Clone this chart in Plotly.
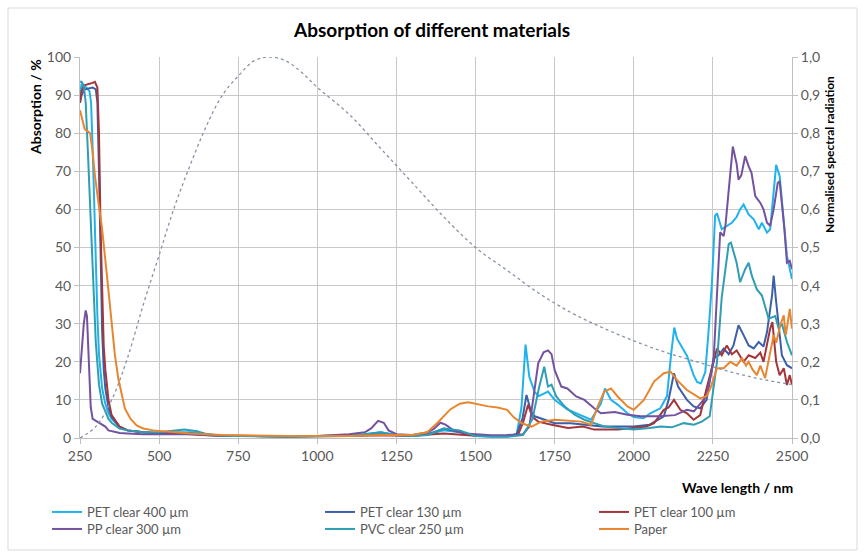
import plotly.graph_objects as go

# ---------------- data ----------------
pet400_x = [250,255,260,270,280,285,290,295,300,305,310,320,330,340,350,375,400,450,500,550,600,650,700,800,900,1000,1100,1150,1200,1250,1300,1350,1400,1450,1500,1550,1600,1630,1645,1658,1670,1687,1700,1729,1750,1790,1834,1865,1896,1909,1928,1950,1980,2000,2031,2052,2084,2105,2118,2128,2137,2150,2168,2189,2200,2212,2226,2236,2247,2257,2263,2278,2294,2310,2325,2336,2347,2363,2379,2395,2405,2421,2431,2442,2450,2461,2474,2484,2500]
pet400_y = [90,93,92.5,92,91,88,76,60,45,32,22,13,9,6.5,5,3,2,1.5,1.2,1.5,1.5,1,0.6,0.5,0.4,0.5,0.6,1,1.5,0.8,0.6,1,2,1.5,0.6,0.4,0.4,1,8,24.5,16,12,11,12.2,10,7.5,6,4.8,9,13,10,8.7,6.5,5.5,5.2,6.5,7.8,11,22,29,26,24,21.6,16.5,14.7,14.3,17.3,27.7,40.7,58.3,59,54.8,55.7,56.5,58,60,61.3,58.7,57.4,54.8,56.5,53.9,54.8,63.5,71.7,68.7,58,47.8,41.7]

pet130_x = [250,255,265,290,300,305,310,315,320,325,330,340,350,375,400,450,500,550,600,650,700,800,900,1000,1100,1150,1200,1250,1300,1350,1400,1450,1500,1550,1600,1630,1648,1661,1675,1687,1719,1750,1800,1855,1900,2000,2050,2095,2110,2127,2140,2168,2189,2210,2230,2252,2268,2284,2300,2315,2331,2347,2363,2379,2395,2410,2421,2437,2442,2450,2468,2484,2500]
pet130_y = [88,90,91.5,92,91.5,88,70,45,28,18,13,8,5.5,3,2,1.5,1.2,1.2,1.2,0.8,0.5,0.5,0.4,0.5,0.6,0.8,1,0.7,0.6,1,2.5,1.5,0.6,0.5,0.5,1,5,11.3,7,5.7,4.8,3.9,3.9,3.5,3,3,3.5,5.7,10,17,13.5,10,8.3,7.8,10,20.9,21.7,23.5,22,24.3,29.6,27,24.3,23.5,25.2,24,27.8,37.4,42.6,35.7,21.7,19.1,18.3]

pet100_x = [250,255,262,270,280,290,297,305,310,315,320,325,330,340,350,375,400,450,500,550,600,650,700,800,900,1000,1100,1200,1300,1400,1500,1600,1635,1650,1666,1680,1698,1740,1792,1840,1875,1950,2000,2040,2064,2095,2110,2127,2147,2168,2189,2210,2230,2252,2263,2278,2294,2310,2325,2347,2363,2384,2400,2410,2431,2438,2450,2461,2474,2484,2493,2500]
pet100_y = [88,91,92.5,92.8,93,93.2,93.5,92,80,55,35,24,18,10,6,3,2,1.5,1.2,1.2,1,0.8,0.6,0.5,0.4,0.5,0.5,0.7,0.6,1.2,0.6,0.5,1,4,8.7,5.5,4.3,3.5,2.6,3,2.2,2.2,2.6,3,3.9,7.4,8,10,7.4,6.5,4.8,6,13,20,23.5,21.7,24.3,22,23,20,21.7,21,22.4,20,28.7,30.4,20,16.5,18.3,13.9,16.5,13.9]

pp300_x = [250,255,262,268,272,278,284,290,300,310,320,330,340,350,376,400,450,500,550,600,650,700,800,900,1000,1100,1150,1170,1192,1210,1225,1250,1300,1350,1370,1389,1405,1430,1470,1500,1550,1600,1650,1670,1685,1698,1715,1729,1740,1750,1771,1790,1818,1844,1875,1896,1940,1980,2022,2080,2130,2168,2190,2210,2230,2252,2263,2273,2284,2290,2300,2313,2325,2331,2340,2352,2363,2372,2384,2400,2410,2421,2431,2442,2455,2461,2476,2484,2493,2500]
pp300_y = [17,22,30,33.5,32,20,8,5,4.5,4,3.5,3,2,1.8,1.3,1.2,1,1,1,1,0.7,0.6,0.5,0.5,0.5,1,1.5,2.5,4.5,4,2,1,0.8,1.5,2.5,4,3.5,2,1.2,1,0.7,0.8,1,3,12,19.6,22.5,23,22,17.8,13.5,13,10.9,10,7.8,6.5,6.8,6.1,5.7,5.7,6,7.4,7,9,11,20,37,54,53,56,65,76.5,72,67.8,69,74,71.3,69.6,63.5,61.7,60,56.5,55.7,60,67,67.4,54.8,46,46.5,44.3]

pvc250_x = [250,255,262,268,275,285,295,300,310,320,330,340,350,375,400,450,500,550,580,620,650,700,800,900,1000,1100,1150,1200,1250,1300,1350,1400,1450,1500,1550,1600,1650,1680,1700,1717,1729,1740,1755,1781,1813,1844,1875,1907,1950,2000,2050,2085,2120,2158,2190,2215,2240,2263,2278,2300,2307,2315,2325,2336,2352,2363,2373,2389,2405,2426,2447,2458,2468,2484,2500]
pvc250_y = [93.5,93.5,92.5,88,75,55,35,25,14,9,7,5,4,2.5,2,1.5,1.5,2,2.2,1.8,1,0.6,0.4,0.3,0.4,0.5,1,1.5,0.7,0.5,0.8,2.5,2,0.5,0.3,0.3,0.8,5,13,18.7,13.5,14,10.9,8.3,6.1,4.8,3.9,3,2.6,2.2,2.6,3,2.8,3.9,3.5,4.3,5.7,20,37,50.9,51.3,48.7,46,40.9,44.3,46,42.6,39,37.4,31.3,32,28.7,30,25.2,21.7]

paper_x = [250,258,265,275,282,290,297,308,319,334,350,360,371,392,410,429,450,482,550,600,700,800,900,1000,1100,1200,1300,1347,1380,1420,1450,1477,1500,1540,1570,1600,1620,1645,1677,1708,1750,1800,1834,1865,1886,1907,1928,1949,1980,2000,2032,2064,2095,2116,2137,2168,2210,2230,2242,2263,2284,2305,2325,2342,2355,2363,2375,2389,2400,2415,2431,2442,2450,2463,2474,2480,2486,2493,2500]
paper_y = [86,83,81,80.5,80,75,69,62,55.5,43.6,29.6,22,15.6,7.7,5,3.3,2.5,2,1.5,1.2,0.8,0.6,0.5,0.5,0.5,0.8,0.8,1.5,4,7.5,9,9.4,9,8.3,8,7.4,5.5,3.9,3,4.3,4.8,4.6,4.3,3.5,8.3,12.2,13,10.9,8.3,7.4,10,14.8,17,17.4,15.2,12.6,10.4,11,13,18.3,18.3,20,19,20.9,19,20,18,16.5,19,15.7,22.6,27,25,29.6,32.2,27,30,33.9,28.7]

spec_x = [250,300,350,400,450,500,550,600,650,700,750,800,850,900,950,1000,1100,1200,1300,1400,1500,1600,1700,1800,1900,2000,2100,2200,2300,2400,2500]
spec_y = [0.0,0.03,0.10,0.21,0.35,0.48,0.61,0.72,0.82,0.90,0.95,0.99,1.0,0.99,0.96,0.92,0.85,0.76,0.67,0.58,0.50,0.44,0.38,0.33,0.29,0.255,0.225,0.20,0.175,0.155,0.14]

series_names = ["PET clear 400 µm", "PET clear 130 µm", "PET clear 100 µm",
                "PP clear 300 µm", "PVC clear 250 µm", "Paper"]
series_colors = ["#1fb2ec", "#3d5ea8", "#a3363b", "#7352a0", "#2f9db3", "#e8862f"]

left_ticks = [0,10,20,30,40,50,60,70,80,90,100]
right_ticks = [0,0.1,0.2,0.3,0.4,0.5,0.6,0.7,0.8,0.9,1.0]
right_labels = ["0,0","0,1","0,2","0,3","0,4","0,5","0,6","0,7","0,8","0,9","1,0"]
x_ticks = [250,500,750,1000,1250,1500,1750,2000,2250,2500]

# ---------------- figure ----------------
FONT = "Lato"
W, H = 864, 553
L, R, T, B = 80, 72, 57, 115
pw, ph = W - L - R, H - T - B

def px(xp):
    return (xp - L) / pw

def py(yp):
    return (H - B - yp) / ph

fig = go.Figure()

fig.add_trace(go.Scatter(x=spec_x, y=spec_y, yaxis="y2", mode="lines",
                         line=dict(color="#8893a8", width=1.3, dash="dot", shape="spline"),
                         showlegend=False, hoverinfo="skip"))

all_x = [pet400_x, pet130_x, pet100_x, pp300_x, pvc250_x, paper_x]
all_y = [pet400_y, pet130_y, pet100_y, pp300_y, pvc250_y, paper_y]
legend_ids = ["legend", "legend2", "legend3", "legend4", "legend5", "legend6"]
for name, col, xs, ys, lid in zip(series_names, series_colors, all_x, all_y, legend_ids):
    fig.add_trace(go.Scatter(x=xs, y=ys, mode="lines", name=name, legend=lid,
                             line=dict(color=col, width=2)))

# legend layout: 3 columns x 2 rows (legend left x, row centre y in pixels)
col_x = [47, 320, 594]
row_y = [512, 529]
legend_layout = {}
for i, lid in enumerate(legend_ids):
    legend_layout[lid] = dict(
        x=px(col_x[i % 3]), xanchor="left", y=py(row_y[i // 3]), yanchor="middle",
        font=dict(family=FONT, size=13, color="#595959"),
        bgcolor="rgba(0,0,0,0)", itemwidth=30, borderwidth=0)

axis_font = dict(family=FONT, size=14, color="#595959")
fig.update_layout(
    width=W, height=H,
    margin=dict(l=L, r=R, t=T, b=B, autoexpand=False),
    paper_bgcolor="white", plot_bgcolor="white",
    font=dict(family=FONT, color="#595959", size=12),
    title=dict(text="<b>Absorption of different materials</b>",
               font=dict(family=FONT, size=19, color="#000000"),
               x=0.5, xanchor="center", y=1 - 30 / H, yanchor="middle"),
    xaxis=dict(range=[250, 2500], tickvals=x_ticks, showgrid=True,
               gridcolor="#c8c8c8", gridwidth=1, zeroline=False,
               showline=True, linecolor="#bfbfbf", ticks="outside",
               ticklen=5, tickcolor="#bfbfbf", tickfont=axis_font),
    yaxis=dict(range=[0, 100], tickvals=left_ticks, showgrid=True,
               gridcolor="#c8c8c8", gridwidth=1, zeroline=False,
               showline=True, linecolor="#bfbfbf", ticks="outside",
               ticklen=5, tickcolor="#bfbfbf", tickfont=axis_font),
    yaxis2=dict(range=[0, 1], overlaying="y", side="right",
                tickvals=right_ticks, ticktext=right_labels, showgrid=False,
                zeroline=False, showline=True, linecolor="#bfbfbf",
                ticks="outside", ticklen=5, tickcolor="#bfbfbf", tickfont=axis_font),
    showlegend=True,
    **legend_layout,
)

fig.add_annotation(text="<b>Absorption / %</b>", xref="paper", yref="paper",
                   x=px(35), y=py(107), textangle=-90, showarrow=False,
                   font=dict(family=FONT, size=14, color="#000000"),
                   xanchor="center", yanchor="middle")
fig.add_annotation(text="<b>Normalised spectral radiation</b>", xref="paper", yref="paper",
                   x=px(829), y=py(155), textangle=-90, showarrow=False,
                   font=dict(family=FONT, size=12, color="#000000"),
                   xanchor="center", yanchor="middle")
fig.add_annotation(text="<b>Wave length / nm</b>", xref="paper", yref="paper",
                   x=px(795), y=py(488), showarrow=False,
                   font=dict(family=FONT, size=14, color="#000000"),
                   xanchor="right", yanchor="middle")

# chart-area border
fig.add_shape(type="rect", xref="paper", yref="paper",
              x0=px(8), x1=px(857), y0=py(550), y1=py(8),
              line=dict(color="#d9d9d9", width=1), layer="below")

fig.write_html("out.html", config={"displayModeBar": False},
               post_script="document.body.style.margin='0';")
